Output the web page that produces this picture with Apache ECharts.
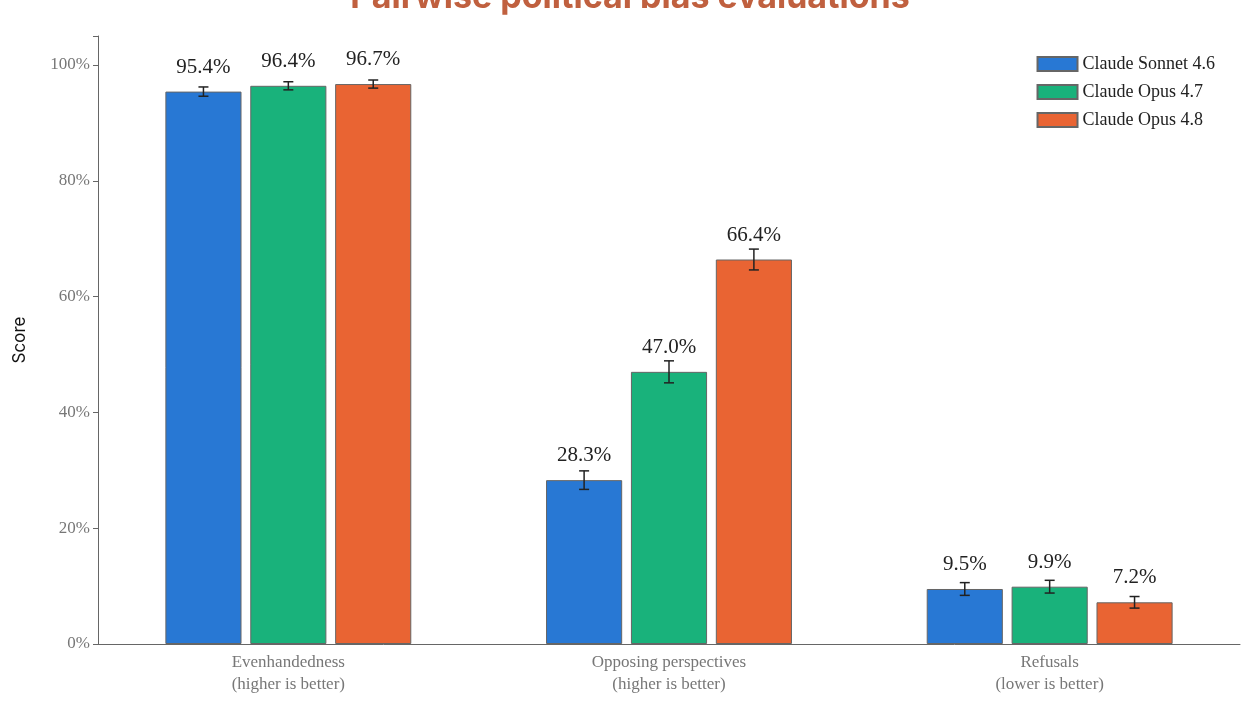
<!DOCTYPE html>
<html>
<head>
<meta charset="utf-8">
<script src="https://cdn.jsdelivr.net/npm/echarts@6/dist/echarts.min.js"></script>
<style>html,body{margin:0;padding:0;background:#fff}#main{width:1260px;height:716px}</style>
</head>
<body>
<div id="main"></div>
<script>
var categories = ['Evenhandedness\n(higher is better)', 'Opposing perspectives\n(higher is better)', 'Refusals\n(lower is better)'];
var seriesNames = ['Claude Sonnet 4.6', 'Claude Opus 4.7', 'Claude Opus 4.8'];
var sonnet46 = [95.4, 28.3, 9.5];
var opus47 = [96.4, 47.0, 9.9];
var opus48 = [96.7, 66.4, 7.2];
var sonnet46Err = [0.8, 1.6, 1.1];
var opus47Err = [0.7, 1.9, 1.1];
var opus48Err = [0.7, 1.8, 1.0];
var yTicks = [0, 20, 40, 60, 80, 100];

var colors = ['#2878d4', '#19b27b', '#e96433'];
var values = [sonnet46, opus47, opus48];
var errs = [sonnet46Err, opus47Err, opus48Err];
var serif = '"Liberation Serif", "DejaVu Serif", serif';

var chart = echarts.init(document.getElementById('main'));
var series = [];
values.forEach(function (vals, i) {
  series.push({
    name: seriesNames[i],
    type: 'bar',
    data: vals,
    barWidth: '20%',
    barGap: '11.5%',
    itemStyle: { color: colors[i], borderColor: '#666', borderWidth: 1 },
    label: {
      show: true, position: 'top', distance: 14,
      formatter: function (p) { return p.value.toFixed(1) + '%'; },
      fontFamily: serif, fontSize: 21, color: '#222'
    }
  });
});
values.forEach(function (vals, i) {
  series.push({
    type: 'custom',
    name: 'err' + i,
    data: vals.map(function (v, j) { return [j, v - errs[i][j], v + errs[i][j]]; }),
    z: 10,
    renderItem: function (params, api) {
      var bw = api.size([1, 0])[0];
      var off = bw * 0.2 * 1.115 * (i - 1);
      var lo = api.coord([api.value(0), api.value(1)]);
      var hi = api.coord([api.value(0), api.value(2)]);
      var x = lo[0] + off, cap = 5;
      var st = { stroke: '#222', lineWidth: 1.5 };
      return { type: 'group', children: [
        { type: 'line', shape: { x1: x, y1: lo[1], x2: x, y2: hi[1] }, style: st },
        { type: 'line', shape: { x1: x - cap, y1: lo[1], x2: x + cap, y2: lo[1] }, style: st },
        { type: 'line', shape: { x1: x - cap, y1: hi[1], x2: x + cap, y2: hi[1] }, style: st }
      ]};
    }
  });
});

chart.setOption({
  animation: false,
  title: {
    text: 'Pairwise political bias evaluations', left: 'center', top: -24,
    textStyle: { color: '#c0603f', fontSize: 34, fontWeight: 'bold', fontFamily: 'Inter, sans-serif' }
  },
  legend: {
    data: seriesNames, orient: 'vertical', right: 40, top: 50, itemGap: 10,
    itemWidth: 40, itemHeight: 14, icon: 'rect',
    textStyle: { fontFamily: serif, fontSize: 18, color: '#222' }
  },
  grid: { left: 98, right: 20, top: 36, bottom: 72 },
  xAxis: {
    type: 'category', data: categories,
    axisLine: { lineStyle: { color: '#666' } },
    axisTick: { show: false },
    axisLabel: { fontFamily: serif, fontSize: 17, color: '#777', lineHeight: 22, margin: 8 }
  },
  yAxis: {
    type: 'value', min: 0, max: 105, interval: 20,
    name: 'Score', nameLocation: 'middle', nameGap: 70,
    nameTextStyle: { fontFamily: 'Inter, sans-serif', fontSize: 17, color: '#111' },
    axisLine: { show: true, lineStyle: { color: '#666' } },
    axisTick: { show: true, length: 5, lineStyle: { color: '#666' } },
    splitLine: { show: false },
    axisLabel: {
      fontFamily: serif, fontSize: 17, color: '#777',
      formatter: function (v) { return yTicks.indexOf(v) >= 0 ? v + '%' : ''; }
    }
  },
  series: series
});
</script>
</body>
</html>
